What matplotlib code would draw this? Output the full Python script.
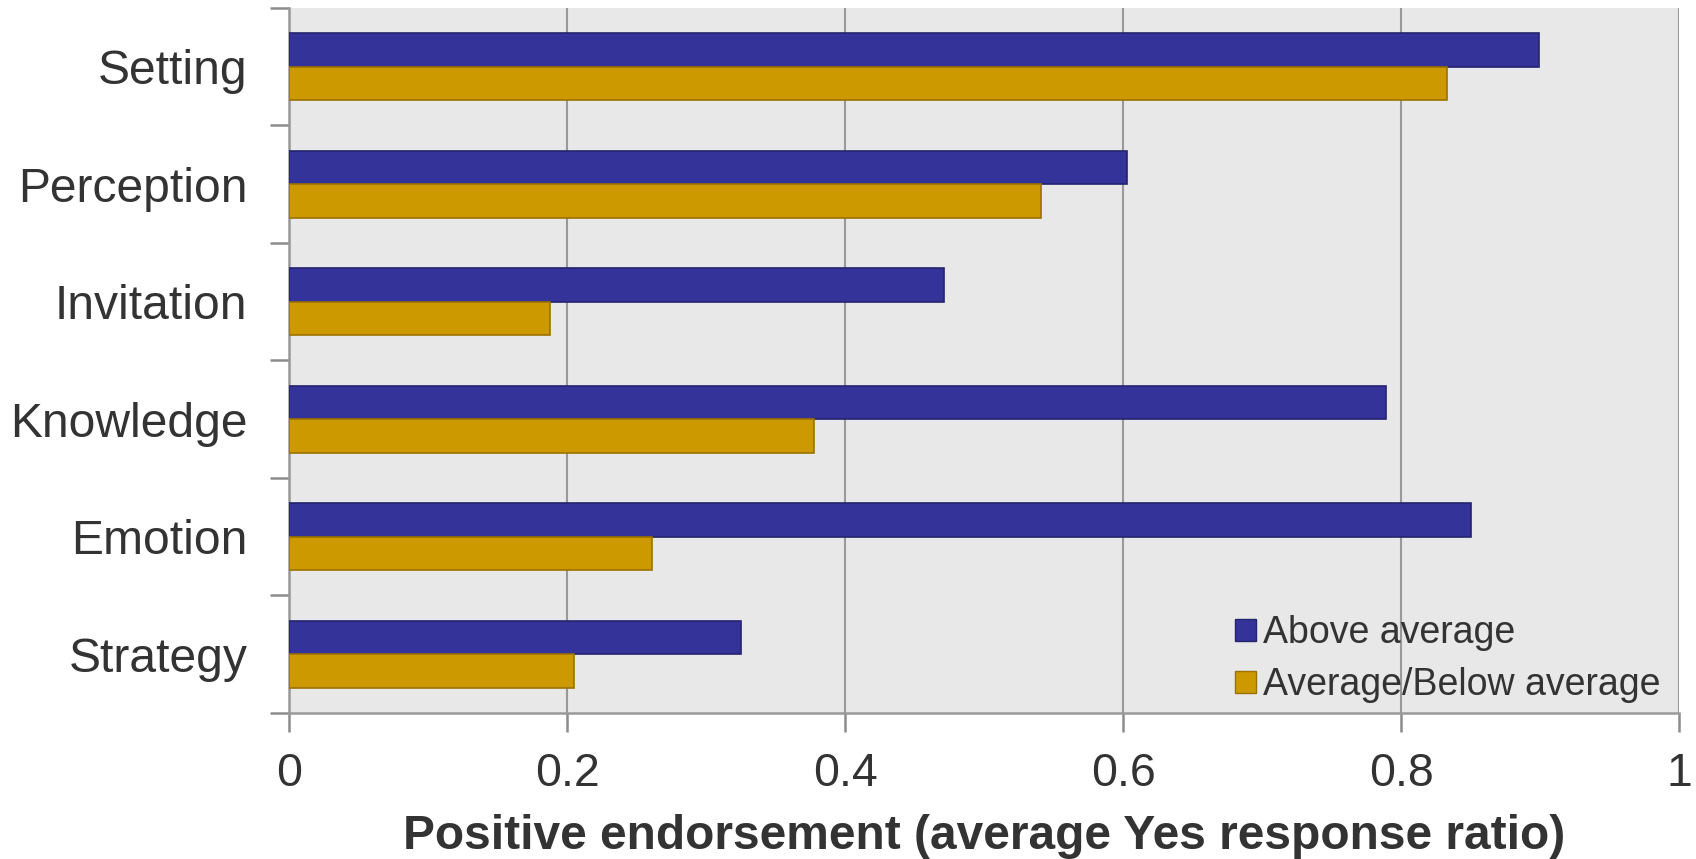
import numpy as np
import matplotlib
matplotlib.use("Agg")
import matplotlib.pyplot as plt
from matplotlib.patches import Patch

# values, top category first
categories = ["Setting", "Perception", "Invitation", "Knowledge", "Emotion", "Strategy"]
above_avg = [0.899, 0.603, 0.471, 0.789, 0.850, 0.325]
below_avg = [0.833, 0.541, 0.188, 0.378, 0.261, 0.205]
series_names = ["Above average", "Average/Below average"]
x_ticks = [0, 0.2, 0.4, 0.6, 0.8, 1]
x_tick_labels = ["0", "0.2", "0.4", "0.6", "0.8", "1"]

plt.rcParams["font.family"] = ["Liberation Sans", "DejaVu Sans"]
text_col = "#333333"
blue, blue_edge = "#333399", "#24246e"
gold, gold_edge = "#cc9900", "#9a7200"

fig = plt.figure(figsize=(16.96, 8.59), dpi=100)
ax = fig.add_axes([0.1704, 0.17, 0.99 - 0.1704, 0.9907 - 0.17])
ax.set_facecolor("#e8e8e8")

n = len(categories)
centers = np.arange(n)[::-1] + 0.5
bh = 0.285
ax.barh(centers + bh / 2, above_avg, height=bh, color=blue,
        edgecolor=blue_edge, linewidth=1.2, zorder=3)
ax.barh(centers - bh / 2, below_avg, height=bh, color=gold,
        edgecolor=gold_edge, linewidth=1.2, zorder=3)

ax.set_xlim(0, 1)
ax.set_ylim(0, n)

# category boundaries carry the tick marks, centers carry the labels
ax.set_yticks(np.arange(n + 1))
ax.set_yticklabels([])
ax.set_yticks(centers, minor=True)
ax.set_yticklabels(categories, minor=True, fontsize=34.6, color=text_col)
ax.tick_params(axis="y", which="major", length=14, width=1.8, color="#8c8c8c")
ax.tick_params(axis="y", which="minor", length=0, pad=30)

ax.set_xticks(x_ticks)
ax.set_xticklabels(x_tick_labels, fontsize=33.5, color=text_col)
ax.tick_params(axis="x", length=14, width=1.8, color="#8c8c8c", pad=14)

ax.grid(axis="x", color="#999999", linewidth=1.5, zorder=1)
ax.set_axisbelow(True)
for s in ["top", "right"]:
    ax.spines[s].set_visible(False)
for s in ["left", "bottom"]:
    ax.spines[s].set_color("#999999")
    ax.spines[s].set_linewidth(1.8)
ax.axvline(1, color="#999999", linewidth=2, zorder=1)

ax.set_xlabel("Positive endorsement (average Yes response ratio)",
              fontsize=34.5, fontweight="bold", color=text_col, labelpad=13)

handles = [Patch(facecolor=blue, edgecolor=blue_edge),
           Patch(facecolor=gold, edgecolor=gold_edge)]
ax.legend(handles, series_names, loc="lower right", bbox_to_anchor=(1.011, -0.034),
          frameon=False, fontsize=27, handlelength=0.55, handleheight=0.55,
          handletextpad=0.2, labelspacing=0.42, labelcolor=text_col)

fig.savefig("out.png", dpi=100)
